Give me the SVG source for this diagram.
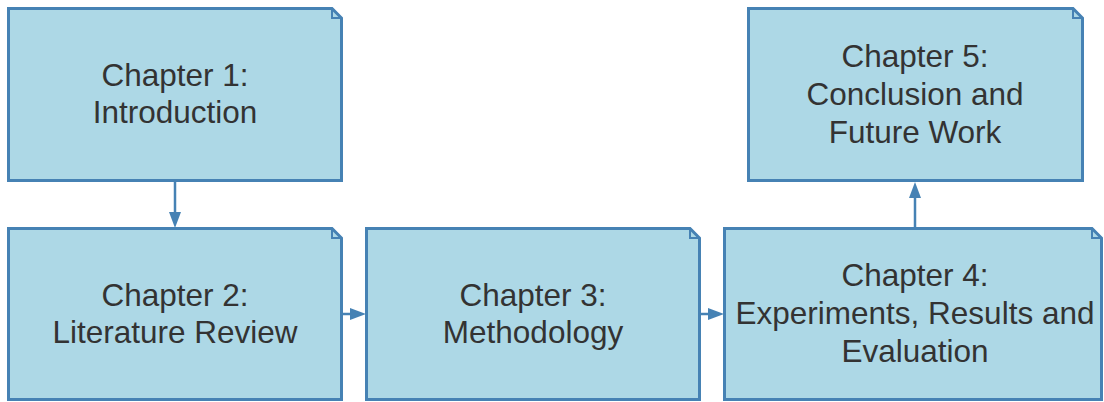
<svg xmlns="http://www.w3.org/2000/svg" width="1104" height="402" viewBox="0 0 1104 402">
<defs>
<style>
.box{fill:#add8e6;stroke:#4682b4;stroke-width:3}
.fold{fill:none;stroke:#4682b4;stroke-width:2}
.t{font-family:"Liberation Sans",Arial,sans-serif;font-size:31.5px;fill:#333;text-anchor:middle}
.c{stroke:#4682b4;stroke-width:2.5;fill:none}
</style>
</defs>
<g id="connectors">
<path class="c" d="M175,182 V214"/>
<path d="M169,212 L181,212 L175,228 Z" fill="#4682b4"/>
<path class="c" d="M343,314 H352"/>
<path d="M350,308 L366,314 L350,320 Z" fill="#4682b4"/>
<path class="c" d="M701,314 H710"/>
<path d="M708,308 L724,314 L708,320 Z" fill="#4682b4"/>
<path class="c" d="M915,227 V196"/>
<path d="M909,198 L921,198 L915,182 Z" fill="#4682b4"/>
</g>
<g id="ch1">
<path class="box" d="M8.5,8.5 H332 L341.5,18 V180.5 H8.5 Z"/>
<path class="fold" d="M332,8.5 V18 H341.5"/>
<text class="t" x="175" y="86">Chapter 1:</text>
<text class="t" x="175" y="123">Introduction</text>
</g>
<g id="ch2">
<path class="box" d="M8.5,228.5 H332 L341.5,238 V399.5 H8.5 Z"/>
<path class="fold" d="M332,228.5 V238 H341.5"/>
<text class="t" x="175" y="306">Chapter 2:</text>
<text class="t" x="175" y="343">Literature Review</text>
</g>
<g id="ch3">
<path class="box" d="M366.5,228.5 H690 L699.5,238 V399.5 H366.5 Z"/>
<path class="fold" d="M690,228.5 V238 H699.5"/>
<text class="t" x="533" y="306">Chapter 3:</text>
<text class="t" x="533" y="343">Methodology</text>
</g>
<g id="ch4">
<path class="box" d="M724.5,228.5 H1092 L1101.5,238 V399.5 H724.5 Z"/>
<path class="fold" d="M1092,228.5 V238 H1101.5"/>
<text class="t" x="915" y="286">Chapter 4:</text>
<text class="t" x="915" y="324">Experiments, Results and</text>
<text class="t" x="915" y="362">Evaluation</text>
</g>
<g id="ch5">
<path class="box" d="M748.5,8.5 H1073 L1082.5,18 V180.5 H748.5 Z"/>
<path class="fold" d="M1073,8.5 V18 H1082.5"/>
<text class="t" x="915" y="67">Chapter 5:</text>
<text class="t" x="915" y="105">Conclusion and</text>
<text class="t" x="915" y="143">Future Work</text>
</g>
</svg>
